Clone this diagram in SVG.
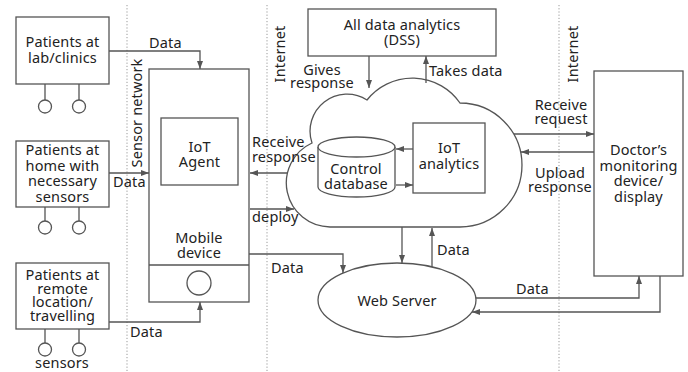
<svg xmlns="http://www.w3.org/2000/svg" width="688" height="372" viewBox="0 0 688 372">
  <style>
    .box { fill: #fff; stroke: #555; stroke-width: 1.3; }
    .ln { fill: none; stroke: #555; stroke-width: 1.3; }
    .arr { fill: none; stroke: #555; stroke-width: 1.3; marker-end: url(#tip); }
    .dot { fill: none; stroke: #999; stroke-width: 1; stroke-dasharray: 1.2 2; }
    text { font-family: "Noto Sans", Lato, sans-serif; font-size: 14.5px; letter-spacing: 0.15px; fill: #222; }
    .c { text-anchor: middle; }
  </style>
  <defs>
    <marker id="tip" viewBox="0 0 8 6" refX="8" refY="3" markerWidth="8" markerHeight="6" markerUnits="userSpaceOnUse" orient="auto">
      <path d="M0,0 L8,3 L0,6 Z" fill="#555"/>
    </marker>
  </defs>

  <!-- network zone separators -->
  <g id="zones">
    <line class="dot" x1="127" y1="5" x2="127" y2="372"/>
    <line class="dot" x1="267" y1="5" x2="267" y2="372"/>
    <line class="dot" x1="559" y1="5" x2="559" y2="372"/>
    <text class="c" transform="translate(142,113) rotate(-90)">Sensor network</text>
    <text class="c" transform="translate(285,54) rotate(-90)">Internet</text>
    <text class="c" transform="translate(578,54) rotate(-90)">Internet</text>
  </g>

  <g id="patients-lab">
    <rect class="box" x="16" y="17" width="93" height="67"/>
    <text class="c" x="62.5" y="47">Patients at</text>
    <text class="c" x="62.5" y="63">lab/clinics</text>
    <path class="ln" d="M45,84 V100 M79,84 V100"/>
    <circle class="box" cx="45" cy="106.5" r="6.5"/>
    <circle class="box" cx="79" cy="106.5" r="6.5"/>
  </g>

  <g id="patients-home">
    <rect class="box" x="16" y="141" width="93" height="66"/>
    <text class="c" x="62.5" y="155">Patients at</text>
    <text class="c" x="62.5" y="170.5">home with</text>
    <text class="c" x="62.5" y="186">necessary</text>
    <text class="c" x="62.5" y="201.5">sensors</text>
    <path class="ln" d="M45,207 V221 M79,207 V221"/>
    <circle class="box" cx="45" cy="227.5" r="6.5"/>
    <circle class="box" cx="79" cy="227.5" r="6.5"/>
  </g>

  <g id="patients-remote">
    <rect class="box" x="16" y="263" width="93" height="66"/>
    <text class="c" x="62.5" y="280">Patients at</text>
    <text class="c" x="62.5" y="293.5">remote</text>
    <text class="c" x="62.5" y="307">location/</text>
    <text class="c" x="62.5" y="320.5">travelling</text>
    <path class="ln" d="M45,329 V343 M79,329 V343"/>
    <circle class="box" cx="45" cy="349.5" r="6.5"/>
    <circle class="box" cx="79" cy="349.5" r="6.5"/>
    <text class="c" x="62" y="367.5">sensors</text>
  </g>

  <g id="mobile-device">
    <rect class="box" x="149" y="69" width="100" height="233"/>
    <line class="ln" x1="149" y1="265" x2="249" y2="265"/>
    <circle class="box" cx="199" cy="283" r="12"/>
    <text class="c" x="199" y="243">Mobile</text>
    <text class="c" x="199" y="258">device</text>
  </g>

  <g id="iot-agent">
    <rect class="box" x="161" y="118" width="77" height="67"/>
    <text class="c" x="199.5" y="152">IoT</text>
    <text class="c" x="199.5" y="167">Agent</text>
  </g>

  <g id="dss">
    <rect class="box" x="308" y="9" width="188" height="47"/>
    <text class="c" x="402" y="30">All data analytics</text>
    <text class="c" x="402" y="45">(DSS)</text>
  </g>

  <g id="cloud">
    <path class="box" d="M330,227 L460,227 A62,62 0 0 0 460,103 A58,58 0 0 0 367,100 A37,37 0 0 0 312,143 A44,44 0 0 0 330,227 Z"/>
  </g>

  <g id="control-database">
    <path class="box" d="M318,147 V187 A38.5,10 0 0 0 395,187 V147"/>
    <ellipse class="box" cx="356.5" cy="147" rx="38.5" ry="10"/>
    <text class="c" x="356" y="174">Control</text>
    <text class="c" x="356" y="188.5">database</text>
  </g>

  <g id="iot-analytics">
    <rect class="box" x="413" y="123" width="72" height="70"/>
    <text class="c" x="449" y="153">IoT</text>
    <text class="c" x="449" y="169">analytics</text>
  </g>

  <g id="web-server">
    <ellipse class="box" cx="397" cy="300" rx="79" ry="37"/>
    <text class="c" x="397" y="305.5">Web Server</text>
  </g>

  <g id="doctor-display">
    <rect class="box" x="594" y="71" width="89" height="205"/>
    <text class="c" x="638.5" y="155">Doctor’s</text>
    <text class="c" x="638.5" y="170.5">monitoring</text>
    <text class="c" x="638.5" y="186">device/</text>
    <text class="c" x="638.5" y="201.5">display</text>
  </g>

  <g id="connectors">
    <path class="arr" d="M109,51 H200 V69"/>
    <path class="arr" d="M109,173 H149"/>
    <path class="arr" d="M109,322 H200 V302"/>
    <path class="arr" d="M287,173 H250"/>
    <path class="arr" d="M250,209 H294"/>
    <path class="arr" d="M249,254 H343 V273"/>
    <path class="arr" d="M369,56 V88"/>
    <path class="arr" d="M426,83 V56"/>
    <path class="arr" d="M413,149 H396"/>
    <path class="arr" d="M396,185 H413"/>
    <path class="arr" d="M402,227 V263"/>
    <path class="arr" d="M432,267 V228"/>
    <path class="arr" d="M514,134 H594"/>
    <path class="arr" d="M594,152 H521"/>
    <path class="arr" d="M476,298 H639 V276"/>
    <path class="arr" d="M660,276 V312 H472"/>

    <text x="149" y="48">Data</text>
    <text x="113" y="187">Data</text>
    <text x="130" y="337">Data</text>
    <text x="252" y="147">Receive</text>
    <text x="252" y="162">response</text>
    <text x="252" y="222">deploy</text>
    <text x="271" y="273">Data</text>
    <text class="c" x="322" y="75">Gives</text>
    <text class="c" x="322" y="88">response</text>
    <text x="429" y="76">Takes data</text>
    <text x="437" y="255">Data</text>
    <text class="c" x="561" y="110">Receive</text>
    <text class="c" x="561" y="124">request</text>
    <text class="c" x="560" y="178">Upload</text>
    <text class="c" x="560" y="192">response</text>
    <text x="516" y="294">Data</text>
  </g>
</svg>
